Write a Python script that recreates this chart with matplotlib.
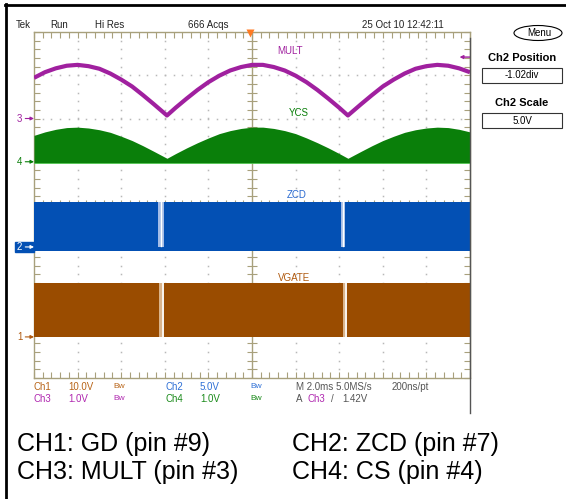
import matplotlib
matplotlib.use("Agg")
import matplotlib.pyplot as plt
from matplotlib.lines import Line2D
from matplotlib.patches import Rectangle, Ellipse
import numpy as np

W, H = 566, 499

# trace data, in screen divisions (x: 0..10, y: 0..8)
mult_x = [0, 0.25, 0.5, 0.75, 1.0, 1.25, 1.5, 1.75, 2.0, 2.25, 2.5, 2.75, 3.05,
          3.25, 3.5, 3.75, 4.0, 4.25, 4.5, 4.75, 5.0, 5.25, 5.5, 5.75, 6.0, 6.25,
          6.5, 6.75, 7.0, 7.2, 7.5, 7.75, 8.0, 8.25, 8.5, 8.75, 9.0, 9.25, 9.5,
          9.75, 10.0]
mult_y = [6.94, 7.07, 7.16, 7.22, 7.24, 7.21, 7.15, 7.04, 6.90, 6.74, 6.54, 6.33, 6.07,
          6.25, 6.46, 6.66, 6.84, 6.99, 7.11, 7.19, 7.24, 7.24, 7.19, 7.11, 6.99, 6.84,
          6.66, 6.46, 6.25, 6.07, 6.33, 6.54, 6.74, 6.90, 7.04, 7.15, 7.21, 7.24, 7.22,
          7.16, 7.07]
ycs_top = [5.61, 5.69, 5.75, 5.79, 5.80, 5.78, 5.74, 5.68, 5.59, 5.49, 5.37, 5.24, 5.08,
           5.19, 5.32, 5.44, 5.55, 5.65, 5.72, 5.77, 5.80, 5.80, 5.77, 5.72, 5.65, 5.55,
           5.44, 5.32, 5.19, 5.08, 5.24, 5.37, 5.49, 5.59, 5.68, 5.74, 5.78, 5.80, 5.79,
           5.75, 5.69]
ycs_base = 4.97
zcd_band = (2.94, 4.08)
vgate_band = (0.95, 2.19)
zcd_gaps = [(2.84, 2.98), (7.04, 7.14)]
vgate_gaps = [(2.86, 2.99), (7.09, 7.19)]
ground = {"1": 0.95, "2": 3.03, "3": 6.0, "4": 5.0}
trig_level = 7.42
trig_pos = 4.95

C_MULT = "#a0209f"
C_YCS = "#0a7f0a"
C_ZCD = "#0350b4"
C_GATE = "#9a4c00"
TAN = "#a8a07c"

scope_font = ["Liberation Sans Narrow", "Liberation Sans", "DejaVu Sans"]
plt.rcParams["font.family"] = scope_font


def fx(x):
    return x / W


def fy(y):
    return 1 - y / H


fig = plt.figure(figsize=(W / 100, H / 100), dpi=100)
fig.patch.set_facecolor("white")

ax = fig.add_axes([fx(34), fy(378), 436 / W, 346 / H])
ax.set_xlim(0, 10)
ax.set_ylim(0, 8)
for s in ax.spines.values():
    s.set_color(TAN)
    s.set_linewidth(1)
ax.set_xticks(np.arange(0, 10.01, 0.2))
ax.set_yticks(np.arange(0, 8.01, 0.2))
ax.tick_params(direction="in", length=4, width=0.8, color=TAN,
               top=True, right=True, labelbottom=False, labelleft=False)

# dotted graticule
dots = np.arange(0.2, 8, 0.2)
for gx in [1, 2, 3, 4, 6, 7, 8, 9]:
    ax.plot([gx] * len(dots), dots, ls="none", marker="s", ms=1.1,
            mec="none", color="#b8b8b8", zorder=1)
dots_x = np.arange(0.2, 10, 0.2)
for gy in [1, 2, 3, 5, 6, 7]:
    ax.plot(dots_x, [gy] * len(dots_x), ls="none", marker="s", ms=1.1,
            mec="none", color="#b8b8b8", zorder=1)
ax.axvline(5, color=TAN, lw=1, zorder=1)
ax.axhline(4, color=TAN, lw=1, zorder=1)
ax.plot([5] * 41, np.arange(0, 8.01, 0.2), ls="none", marker="_", ms=7,
        mew=0.8, color=TAN, zorder=1)
ax.plot(np.arange(0, 10.01, 0.2), [4] * 51, ls="none", marker="|", ms=7,
        mew=0.8, color=TAN, zorder=1)

# traces
ax.fill_between([0, 10], vgate_band[0], vgate_band[1], color=C_GATE, lw=0, zorder=3)
for a, b in vgate_gaps:
    ax.fill_between([a, b], vgate_band[0], vgate_band[1], color="#d9b48c", lw=0, zorder=3)
    ax.plot([b - 0.03] * 2, vgate_band, color="white", lw=1.2, zorder=3)

ax.fill_between([0, 10], zcd_band[0], zcd_band[1], color=C_ZCD, lw=0, zorder=3)
for a, b in zcd_gaps:
    ax.fill_between([a, b], zcd_band[0] + 0.1, zcd_band[1], color="#a4bce6", lw=0, zorder=3)
    ax.plot([(a + b) / 2] * 2, [zcd_band[0] + 0.12, zcd_band[1]], color="white",
            lw=1.0, zorder=3)

ax.fill_between(mult_x, ycs_base, ycs_top, color=C_YCS, lw=0, zorder=3)
ax.plot([0, 10], [ycs_base + 0.01] * 2, color="#55c855", lw=0.6, zorder=3)
ax.plot(mult_x, mult_y, color=C_MULT, lw=3.0, solid_joinstyle="round",
        solid_capstyle="butt", zorder=4)

# trace labels
ax.text(5.57, 7.57, "MULT", color=C_MULT, fontsize=7, va="center", zorder=5)
ax.text(5.85, 6.13, "YCS", color=C_YCS, fontsize=7, va="center", zorder=5)
ax.text(5.80, 4.23, "ZCD", color="#2a6ad0", fontsize=7, va="center", zorder=5)
ax.text(5.59, 2.31, "VGATE", color="#b05a10", fontsize=7, va="center", zorder=5)

# ground markers on the left
marker_cols = {"1": "#b05a10", "2": "white", "3": C_MULT, "4": C_YCS}
for ch, lvl in ground.items():
    col = marker_cols[ch]
    if ch == "2":
        ax.add_patch(Rectangle((-0.44, lvl - 0.11), 0.44, 0.22, color=C_ZCD,
                               clip_on=False, zorder=5))
    ax.text(-0.27, lvl, ch, color=col, fontsize=7, ha="right", va="center",
            clip_on=False, zorder=6)
    ax.annotate("", xy=(0.0, lvl), xytext=(-0.2, lvl), annotation_clip=False,
                arrowprops=dict(arrowstyle="-|>", color=col, lw=0.8,
                                mutation_scale=5, shrinkA=0, shrinkB=0), zorder=6)

# trigger level / position markers
ax.annotate("", xy=(9.76, trig_level), xytext=(10.0, trig_level), annotation_clip=False,
            arrowprops=dict(arrowstyle="-|>", color=C_MULT, lw=1.0,
                            mutation_scale=5, shrinkA=0, shrinkB=0))
ax.plot([trig_pos], [7.97], marker="v", ms=6, color="#ff7a22", mec="none",
        clip_on=False, zorder=6)

# frame lines
fig.add_artist(Line2D([fx(5.5)] * 2, [0, fy(4)], color="black", lw=2))
fig.add_artist(Line2D([fx(4.5), 1], [fy(5)] * 2, color="black", lw=2))
fig.add_artist(Line2D([fx(470)] * 2, [fy(38), fy(413)], color="#555555", lw=1))

# header
hdr = [(16, "Tek"), (50, "Run"), (95, "Hi Res"), (188, "666 Acqs"), (362, "25 Oct 10 12:42:11")]
for x, t in hdr:
    fig.text(fx(x), fy(25), t, fontsize=7, color="#222222", va="center")

# right panel
fig.add_artist(Ellipse((fx(538), fy(33)), 48 / W, 15 / H, fill=False, ec="black",
                       lw=0.8, transform=fig.transFigure))
fig.text(fx(539), fy(33), "Menu", fontsize=7, ha="center", va="center")
fig.text(fx(522), fy(58), "Ch2 Position", fontsize=8, fontweight="bold",
         ha="center", va="center", family=["Liberation Sans", "DejaVu Sans"])
fig.add_artist(Rectangle((fx(482), fy(83)), 80 / W, 15 / H, fill=False, ec="#333333",
                         lw=0.8, transform=fig.transFigure))
fig.text(fx(522), fy(75.5), "-1.02div", fontsize=7, ha="center", va="center")
fig.text(fx(522), fy(103), "Ch2 Scale", fontsize=8, fontweight="bold",
         ha="center", va="center", family=["Liberation Sans", "DejaVu Sans"])
fig.add_artist(Rectangle((fx(482), fy(128)), 80 / W, 15 / H, fill=False, ec="#333333",
                         lw=0.8, transform=fig.transFigure))
fig.text(fx(522), fy(120.5), "5.0V", fontsize=7, ha="center", va="center")

# status lines under the screen
T_BRN, T_BLU, T_MAG, T_GRN, T_GRY = "#b86418", "#2f70d6", "#b028b0", "#1a8a1a", "#555555"
row1 = [(33, "Ch1", T_BRN), (68, "10.0V", T_BRN), (113, "Bw", T_BRN),
        (165, "Ch2", T_BLU), (200, "5.0V", T_BLU), (250, "Bw", T_BLU),
        (296, "M 2.0ms 5.0MS/s", T_GRY), (392, "200ns/pt", T_GRY)]
row2 = [(33, "Ch3", T_MAG), (68, "1.0V", T_MAG), (113, "Bw", T_MAG),
        (165, "Ch4", T_GRN), (200, "1.0V", T_GRN), (250, "Bw", T_GRN),
        (296, "A", T_GRY), (307, "Ch3", T_MAG), (331, "/", T_GRY), (342, "1.42V", T_GRY)]
for y, row in [(387, row1), (399, row2)]:
    for x, t, c in row:
        fig.text(fx(x), fy(y), t, fontsize=6 if t == "Bw" else 7, color=c, va="center")

# pin legend
big = dict(fontsize=18, color="black", va="center", family=["Liberation Sans", "DejaVu Sans"])
fig.text(fx(17), fy(444), "CH1: GD (pin #9)", **big)
fig.text(fx(17), fy(472), "CH3: MULT (pin #3)", **big)
fig.text(fx(292), fy(444), "CH2: ZCD (pin #7)", **big)
fig.text(fx(292), fy(472), "CH4: CS (pin #4)", **big)

fig.savefig("out.png", dpi=100)
